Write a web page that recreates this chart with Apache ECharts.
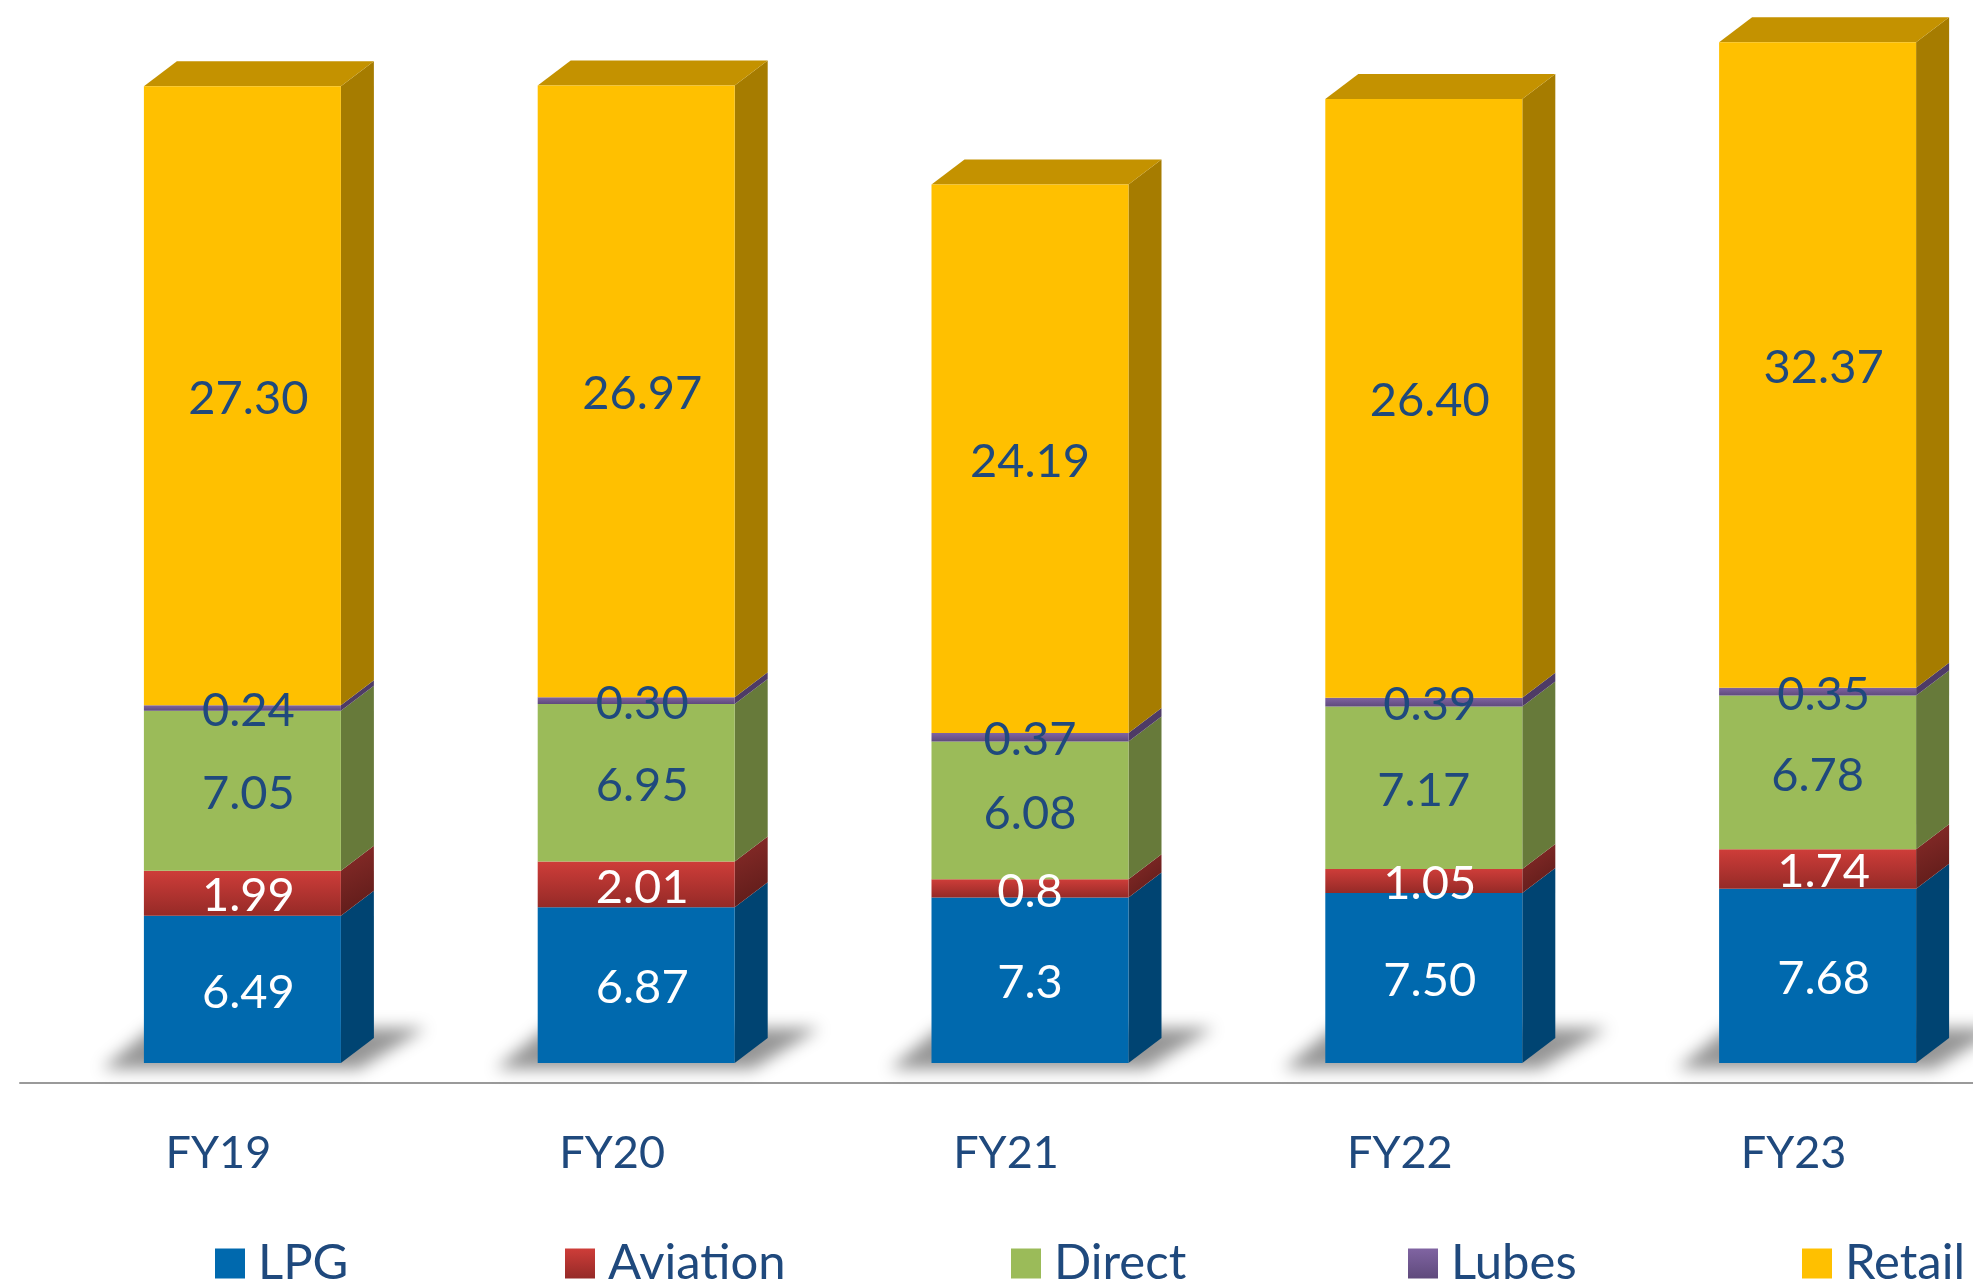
<!DOCTYPE html>
<html>
<head>
<meta charset="utf-8">
<style>html,body{margin:0;padding:0;background:#fff}#chart{width:1973px;height:1286px}</style>
<script src="https://cdn.jsdelivr.net/npm/echarts@6/dist/echarts.min.js"></script>
</head>
<body>
<div id="chart"></div>
<script>
const categories = ['FY19', 'FY20', 'FY21', 'FY22', 'FY23'];
const seriesNames = ['LPG', 'Aviation', 'Direct', 'Lubes', 'Retail'];

// bar heights as drawn in the picture
const lpg = [6.49, 6.87, 7.3, 7.50, 7.68];
const aviation = [1.99, 2.01, 0.8, 1.05, 1.74];
const direct = [7.05, 6.95, 6.08, 7.17, 6.78];
const lubes = [0.24, 0.30, 0.37, 0.39, 0.35];
const retail = [27.30, 26.97, 24.19, 26.40, 28.46]; // FY23's bar is drawn shorter than its printed label

// printed data labels
const lpgLabels = ['6.49', '6.87', '7.3', '7.50', '7.68'];
const aviationLabels = ['1.99', '2.01', '0.8', '1.05', '1.74'];
const directLabels = ['7.05', '6.95', '6.08', '7.17', '6.78'];
const lubesLabels = ['0.24', '0.30', '0.37', '0.39', '0.35'];
const retailLabels = ['27.30', '26.97', '24.19', '26.40', '32.37'];

const allValues = [lpg, aviation, direct, lubes, retail];
const allLabels = [lpgLabels, aviationLabels, directLabels, lubesLabels, retailLabels];

const FONT = 'Lato, "Open Sans", sans-serif';
const TEXT_BLUE = '#1F497D';
const BAR_W = 197, DX = 33, DY = 25;
const grad = (a, b) => new echarts.graphic.LinearGradient(0, 0, 0, 1, [{offset: 0, color: a}, {offset: 1, color: b}]);
const gradDiag = (a, b) => new echarts.graphic.LinearGradient(0, 0, 1, 1, [{offset: 0, color: a}, {offset: 1, color: b}]);

const looks = [
  {front: '#0069AE', side: '#004472', top: '#00548B', text: '#FFFFFF'},
  {front: grad('#CE3D39', '#952A27'), side: gradDiag('#8A2C29', '#5A1A18'), top: '#A3302D', text: '#FFFFFF'},
  {front: '#9BBB59', side: '#677A3A', top: '#7C9647', text: TEXT_BLUE},
  {front: grad('#8064A2', '#5F4A7C'), side: '#4E3B66', top: '#664F82', text: TEXT_BLUE},
  {front: '#FFC000', side: '#A67C00', top: '#C49200', text: TEXT_BLUE}
];
const legendLeft = [215, 565, 1011, 1408, 1802];
const SHADOW_SHIFT = 4000;

function labelShiftX(s, i) {
  if (i === 2) return 0;
  if (s === 2 && i >= 3) return 0;
  return 6;
}

function rangesFor(s) {
  return categories.map((c, i) => {
    let base = 0;
    for (let k = 0; k < s; k++) base += allValues[k][i];
    return [i, base, base + allValues[s][i]];
  });
}

function makeRender(s) {
  const look = looks[s];
  return function (params, api) {
    const i = api.value(0);
    const b = api.coord([i, api.value(1)]);
    const t = api.coord([i, api.value(2)]);
    const xl = b[0] - BAR_W / 2, xr = xl + BAR_W, yb = b[1], yt = t[1];
    const children = [];
    if (s === 0) {
      const o = -SHADOW_SHIFT;
      children.push({
        type: 'polygon', silent: true,
        shape: {points: [[o + xl - 42, yb + 6], [o + xl + 8, yb - 35], [o + xr + 85, yb - 35], [o + xr + 18, yb + 6]]},
        style: {fill: '#888', shadowBlur: 16, shadowOffsetX: SHADOW_SHIFT, shadowColor: 'rgba(150,150,150,1)'}
      });
    }
    children.push({
      type: 'polygon',
      shape: {points: [[xr, yb], [xr + DX, yb - DY], [xr + DX, yt - DY], [xr, yt]]},
      style: {fill: look.side}
    });
    if (s === seriesNames.length - 1) {
      children.push({
        type: 'polygon',
        shape: {points: [[xl, yt], [xl + DX, yt - DY], [xr + DX, yt - DY], [xr, yt]]},
        style: {fill: look.top}
      });
    }
    children.push({
      type: 'rect',
      shape: {x: xl, y: yt, width: BAR_W, height: yb - yt},
      style: {fill: look.front}
    });
    return {type: 'group', children};
  };
}

function makeLabelRender(s) {
  const look = looks[s];
  return function (params, api) {
    const i = api.value(0);
    const b = api.coord([i, api.value(1)]);
    const t = api.coord([i, api.value(2)]);
    return {
      type: 'text', silent: true,
      style: {
        x: b[0] + labelShiftX(s, i), y: (b[1] + t[1]) / 2 + 3,
        text: allLabels[s][i], fill: look.text,
        font: '47px ' + FONT, align: 'center', verticalAlign: 'middle'
      }
    };
  };
}

const barSeries = seriesNames.map((name, s) => ({
  name, type: 'custom', xAxisIndex: 0, yAxisIndex: 0, z: 2,
  clip: false,
  itemStyle: {color: looks[s].front},
  encode: {x: 0, y: [1, 2]},
  data: rangesFor(s),
  renderItem: makeRender(s)
}));
const labelSeries = seriesNames.map((name, s) => ({
  name: name + ' labels', type: 'custom', xAxisIndex: 0, yAxisIndex: 0, z: 5,
  clip: false, silent: true,
  encode: {x: 0, y: [1, 2]},
  data: rangesFor(s),
  renderItem: makeLabelRender(s)
}));

const chart = echarts.init(document.getElementById('chart'), null, {renderer: 'canvas'});
chart.setOption({
  animation: false,
  backgroundColor: '#fff',
  grid: [
    {left: 45.5, width: 1969, top: 0, height: 1063, outerBoundsMode: 'none'},
    {left: 20, right: 0, top: 1000, height: 83, outerBoundsMode: 'none'}
  ],
  xAxis: [
    {
      gridIndex: 0, type: 'category', data: categories,
      axisLine: {show: false}, axisTick: {show: false},
      axisLabel: {
        color: TEXT_BLUE, fontFamily: FONT, fontSize: 45, margin: 68,
        padding: [0, 48, 0, 0], interval: 0, hideOverlap: false
      }
    },
    {
      gridIndex: 1, type: 'category', data: [''],
      axisLine: {show: true, lineStyle: {color: '#9A9A9A', width: 2}},
      axisTick: {show: false}, axisLabel: {show: false}
    }
  ],
  yAxis: [
    {gridIndex: 0, type: 'value', min: 0, max: 46.87, show: false},
    {gridIndex: 1, type: 'value', min: 0, max: 1, show: false}
  ],
  legend: seriesNames.map((name, s) => ({
    left: legendLeft[s], top: 1239, padding: 0,
    itemWidth: 30, itemHeight: 30, itemGap: 0,
    icon: 'rect',
    textStyle: {color: TEXT_BLUE, fontFamily: FONT, fontSize: 49, padding: [0, 0, 0, 8]},
    data: [{name, itemStyle: {color: looks[s].front}}],
    selectedMode: false
  })),
  series: barSeries.concat(labelSeries)
});
</script>
</body>
</html>
